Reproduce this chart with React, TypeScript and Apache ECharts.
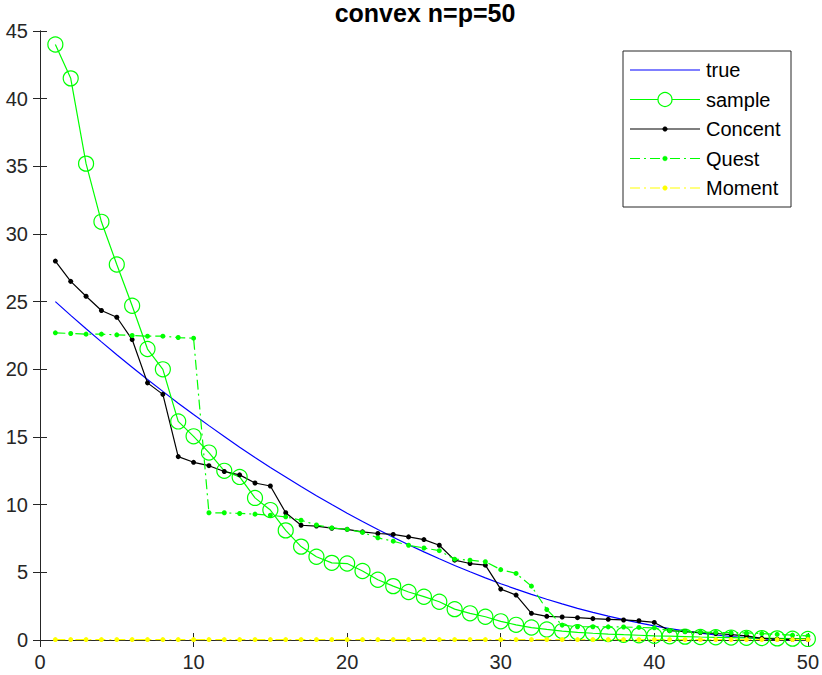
import React, { useEffect, useRef } from "react";
import * as echarts from "echarts";

const xValues = [
  1, 2, 3, 4, 5, 6, 7, 8, 9, 10, 11, 12, 13, 14, 15, 16, 17, 18, 19, 20, 21, 22, 23, 24, 25,
  26, 27, 28, 29, 30, 31, 32, 33, 34, 35, 36, 37, 38, 39, 40, 41, 42, 43, 44, 45, 46, 47, 48, 49, 50,
];

const trueValues = [
  25.0, 23.99, 23.0, 22.03, 21.08, 20.16, 19.25, 18.37, 17.5, 16.66, 15.84, 15.04, 14.25, 13.49,
  12.75, 12.04, 11.34, 10.66, 10.01, 9.37, 8.76, 8.16, 7.59, 7.04, 6.51, 6.0, 5.51, 5.04, 4.59,
  4.16, 3.76, 3.37, 3.01, 2.67, 2.34, 2.04, 1.76, 1.5, 1.26, 1.04, 0.84, 0.67, 0.51, 0.37, 0.26,
  0.17, 0.09, 0.04, 0.01, 0.0,
];

const sampleValues = [
  44.0, 41.5, 35.2, 30.9, 27.75, 24.7, 21.5, 20.0, 16.15, 15.05, 13.85, 12.5, 12.05, 10.5, 9.6,
  8.1, 6.9, 6.15, 5.7, 5.65, 5.1, 4.45, 3.98, 3.55, 3.2, 2.83, 2.28, 1.97, 1.72, 1.38, 1.12, 0.92,
  0.78, 0.66, 0.57, 0.5, 0.44, 0.39, 0.35, 0.31, 0.28, 0.25, 0.22, 0.2, 0.18, 0.16, 0.14, 0.12,
  0.1, 0.08,
];

const concentValues = [
  28.0, 26.5, 25.4, 24.35, 23.85, 22.2, 19.0, 18.15, 13.55, 13.13, 12.88, 12.45, 12.2, 11.6,
  11.38, 9.4, 8.48, 8.42, 8.26, 8.18, 7.99, 7.87, 7.8, 7.62, 7.42, 7.0, 5.9, 5.65, 5.53, 3.76,
  3.32, 1.97, 1.75, 1.7, 1.65, 1.58, 1.53, 1.48, 1.42, 1.3, 0.69, 0.62, 0.55, 0.48, 0.4, 0.3,
  0.12, 0.06, 0.05, 0.05,
];

const questValues = [
  22.7, 22.65, 22.6, 22.6, 22.55, 22.5, 22.45, 22.45, 22.35, 22.3, 9.4, 9.4, 9.35, 9.3, 9.22,
  9.1, 8.85, 8.5, 8.28, 8.18, 7.95, 7.55, 7.3, 7.0, 6.8, 6.6, 5.97, 5.9, 5.78, 5.2, 4.92, 3.98,
  2.25, 1.1, 0.98, 0.98, 0.97, 0.96, 0.93, 0.9, 0.69, 0.62, 0.58, 0.56, 0.55, 0.52, 0.47, 0.42,
  0.36, 0.3,
];

const momentValues = [
  0.03, 0.03, 0.03, 0.03, 0.03, 0.03, 0.03, 0.03, 0.03, 0.03, 0.03, 0.03, 0.03, 0.03, 0.03, 0.03,
  0.03, 0.03, 0.03, 0.03, 0.03, 0.03, 0.03, 0.03, 0.03, 0.03, 0.03, 0.03, 0.03, 0.03, 0.03, 0.03,
  0.03, 0.03, 0.03, 0.03, 0.03, 0.03, 0.03, 0.03, 0.03, 0.03, 0.03, 0.03, 0.03, 0.03, 0.03, 0.03,
  0.03, 0.03,
];

const legendNames = ["true", "sample", "Concent", "Quest", "Moment"];
const titleText = "convex n=p=50";

const AXIS_COLOR = "#262626";
const FONT = "'Liberation Sans', Arial, Helvetica, sans-serif";
const DASHDOT = [10, 4, 2, 4];

function pairs(ys: number[]) {
  return xValues.map((x, i) => [x, ys[i]]);
}

export default function App() {
  const ref = useRef<HTMLDivElement>(null);

  useEffect(() => {
    if (!ref.current) return;
    const chart = echarts.init(ref.current, undefined, { renderer: "svg" });

    const axisCommon = {
      type: "value" as const,
      axisLine: { show: true, lineStyle: { color: AXIS_COLOR, width: 1 } },
      axisTick: { show: true, inside: true, length: 7, lineStyle: { color: AXIS_COLOR, width: 1 } },
      splitLine: { show: false },
    };
    const labelCommon = {
      color: AXIS_COLOR,
      fontSize: 20,
      fontFamily: FONT,
    };

    // legend drawn with graphic elements
    const lx1 = 630;
    const lx2 = 700;
    const lmid = 665;
    const ly0 = 70;
    const lstep = 29.5;
    const legendItems: any[] = [
      {
        type: "rect",
        shape: { x: 623, y: 51, width: 168, height: 156 },
        style: { fill: "#ffffff", stroke: AXIS_COLOR, lineWidth: 1 },
      },
    ];
    const legendStyles = [
      { color: "#0000ff", dash: null as any, sym: "none" },
      { color: "#00ff00", dash: null, sym: "ring" },
      { color: "#000000", dash: null, sym: "dot" },
      { color: "#00ff00", dash: DASHDOT, sym: "dot" },
      { color: "#ffff00", dash: DASHDOT, sym: "dot" },
    ];
    legendNames.forEach((name, i) => {
      const y = ly0 + i * lstep;
      const st = legendStyles[i];
      const lineStyle: any = { stroke: st.color, lineWidth: 1.2 };
      if (st.dash) lineStyle.lineDash = st.dash;
      legendItems.push({
        type: "line",
        shape: { x1: lx1, y1: y, x2: lx2, y2: y },
        style: lineStyle,
      });
      if (st.sym === "ring") {
        legendItems.push({
          type: "circle",
          shape: { cx: lmid, cy: y, r: 7 },
          style: { fill: "#ffffff", stroke: st.color, lineWidth: 1.2 },
        });
      } else if (st.sym === "dot") {
        legendItems.push({
          type: "circle",
          shape: { cx: lmid, cy: y, r: 2.3 },
          style: { fill: st.color, stroke: st.color, lineWidth: 0.5 },
        });
      }
      legendItems.push({
        type: "text",
        x: 706,
        y: y,
        style: {
          text: name,
          fill: "#000000",
          fontSize: 20,
          fontFamily: FONT,
          verticalAlign: "middle",
          align: "left",
        },
      });
    });

    chart.setOption({
      animation: false,
      backgroundColor: "#ffffff",
      title: {
        text: titleText,
        left: 425,
        top: 0,
        padding: 0,
        textAlign: "center",
        textStyle: {
          fontSize: 25,
          fontWeight: "bold",
          color: "#000000",
          fontFamily: FONT,
        },
      },
      grid: { left: 40, right: 11, top: 31, bottom: 35, containLabel: false },
      xAxis: [
        {
          ...axisCommon,
          position: "bottom",
          min: 0,
          max: 50,
          interval: 10,
          axisLabel: { ...labelCommon, margin: 12 },
        },
        {
          ...axisCommon,
          position: "top",
          min: 0,
          max: 50,
          interval: 10,
          axisLabel: { show: false },
        },
      ],
      yAxis: [
        {
          ...axisCommon,
          position: "left",
          min: 0,
          max: 45,
          interval: 5,
          axisLabel: { ...labelCommon, margin: 12 },
        },
        {
          ...axisCommon,
          position: "right",
          min: 0,
          max: 45,
          interval: 5,
          axisLabel: { show: false },
        },
      ],
      series: [
        {
          name: "true",
          type: "line",
          data: pairs(trueValues),
          showSymbol: false,
          symbol: "none",
          lineStyle: { color: "#0000ff", width: 1.2 },
          itemStyle: { color: "#0000ff" },
        },
        {
          name: "sample",
          type: "line",
          data: pairs(sampleValues),
          symbol: "circle",
          symbolSize: 15,
          lineStyle: { color: "#00ff00", width: 1.2 },
          itemStyle: { color: "none", borderColor: "#00ff00", borderWidth: 1.2 },
        },
        {
          name: "Concent",
          type: "line",
          data: pairs(concentValues),
          symbol: "circle",
          symbolSize: 5,
          lineStyle: { color: "#000000", width: 1.2 },
          itemStyle: { color: "#000000" },
        },
        {
          name: "Quest",
          type: "line",
          data: pairs(questValues),
          symbol: "circle",
          symbolSize: 5,
          lineStyle: { color: "#00ff00", width: 1.2, type: DASHDOT },
          itemStyle: { color: "#00ff00" },
        },
        {
          name: "Moment",
          type: "line",
          data: pairs(momentValues),
          symbol: "circle",
          symbolSize: 5,
          lineStyle: { color: "#ffff00", width: 1.2, type: DASHDOT },
          itemStyle: { color: "#ffff00" },
        },
      ],
      graphic: [{ type: "group", z: 100, children: legendItems }],
    });

    return () => {
      chart.dispose();
    };
  }, []);

  return (
    <div
      ref={ref}
      style={{ position: "fixed", left: 0, top: 0, width: 822, height: 675, background: "#fff" }}
    />
  );
}
